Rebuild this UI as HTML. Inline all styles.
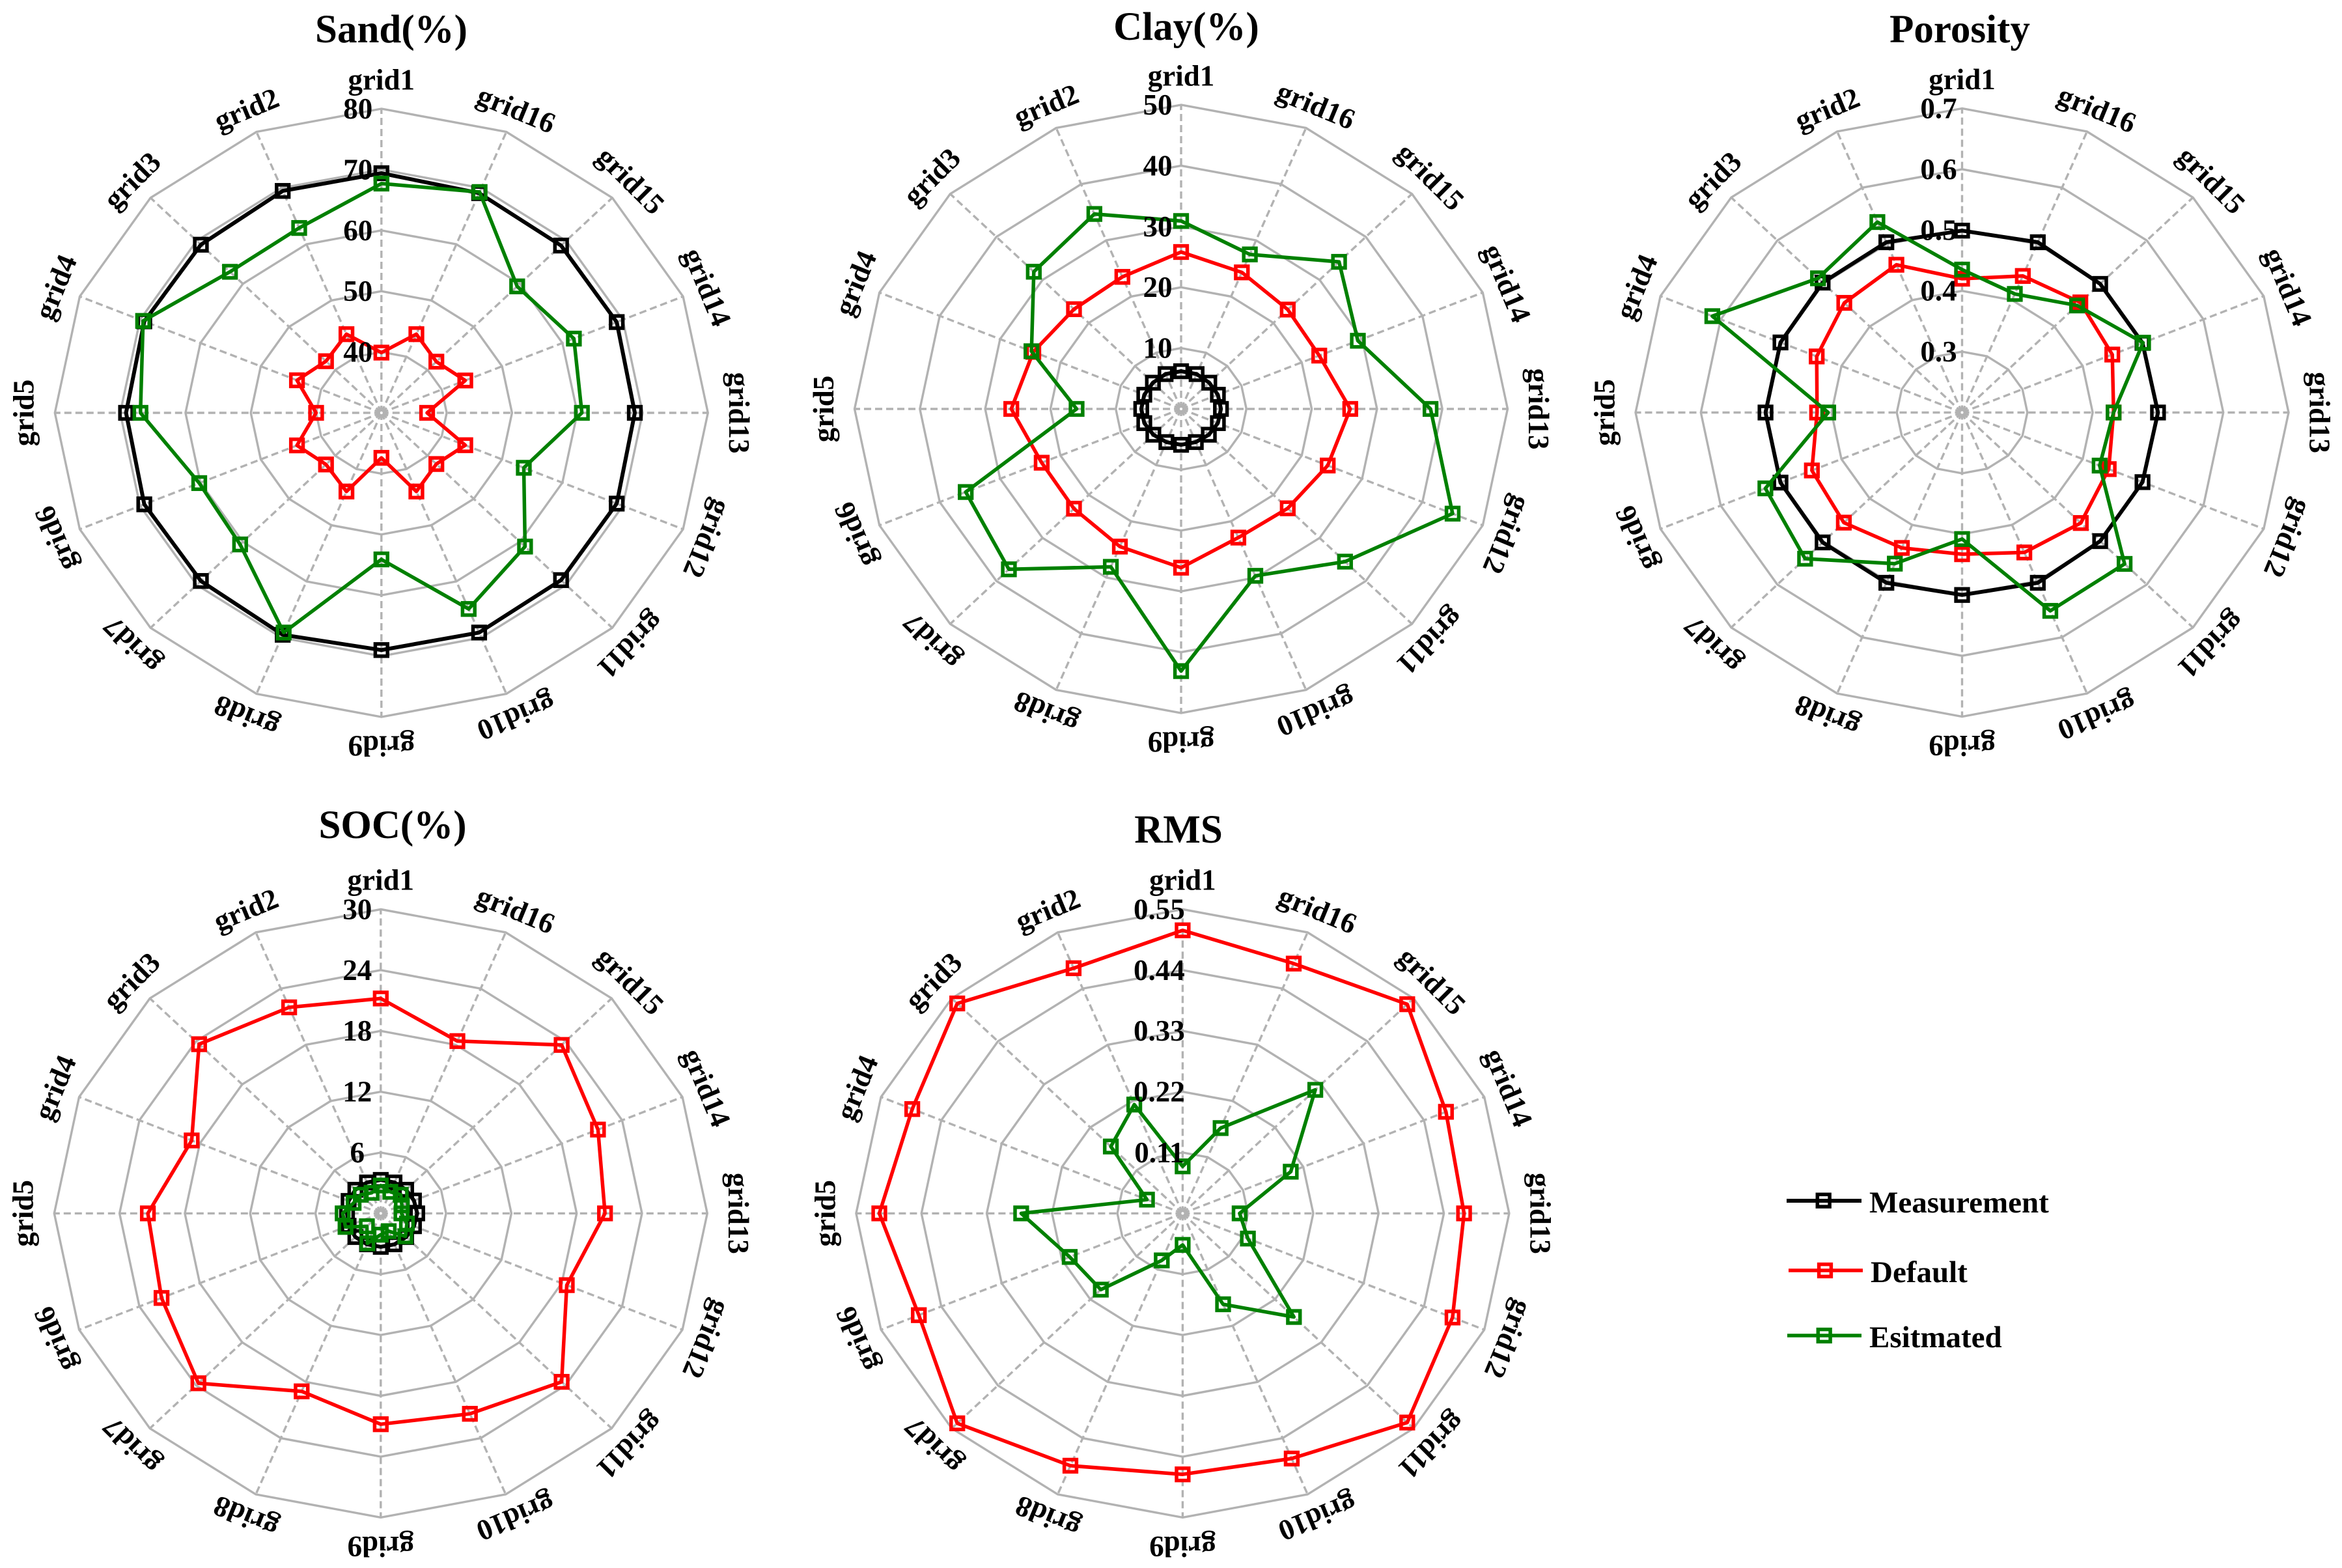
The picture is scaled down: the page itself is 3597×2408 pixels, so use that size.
<!DOCTYPE html>
<html lang="en">
<head>
<meta charset="utf-8">
<title>Radar charts of soil properties</title>
<style>
html,body{margin:0;padding:0;background:#fff;}
svg{display:block;}
text{font-family:"Liberation Serif","DejaVu Serif",serif;font-weight:bold;fill:#000;}
.title{font-size:61px;text-anchor:middle;}
.legend-text{font-size:47px;}
</style>
</head>
<body>
<svg id="figure" xmlns="http://www.w3.org/2000/svg" width="3597" height="2408" viewBox="0 0 3597 2408">
  <rect width="3597" height="2408" fill="#ffffff"/>
  <g id="panel-sand"><text class="title" x="601" y="65">Sand(%)</text></g>
  <g id="panel-clay"><text class="title" x="1822" y="61">Clay(%)</text></g>
  <g id="panel-porosity"><text class="title" x="3010" y="65">Porosity</text></g>
  <g id="panel-soc"><text class="title" x="603" y="1287">SOC(%)</text></g>
  <g id="panel-rms"><text class="title" x="1810" y="1294">RMS</text></g>

  <g>
    <g>
      <line x1="2744" x2="2859" y1="1844" y2="1844" stroke="#000000" stroke-width="6"/>
      <rect x="2791.3" y="1834.3" width="18.8" height="18.8" fill="none" stroke="#000000" stroke-width="5.5"/>
      <text class="legend-text" x="2871" y="1862">Measurement</text>
    </g>
    <g>
      <line x1="2747" x2="2861" y1="1951" y2="1951" stroke="#ff0000" stroke-width="5.5"/>
      <rect x="2793.6" y="1941.6" width="18.8" height="18.8" fill="none" stroke="#ff0000" stroke-width="5.5"/>
      <text class="legend-text" x="2873" y="1969">Default</text>
    </g>
    <g>
      <line x1="2745" x2="2859" y1="2051" y2="2051" stroke="#008000" stroke-width="5.5"/>
      <rect x="2792.3" y="2041.6" width="18.8" height="18.8" fill="none" stroke="#008000" stroke-width="5.5"/>
      <text class="legend-text" x="2871" y="2069">Esitmated</text>
    </g>
  </g>
</svg>
<script>
const categories = ["grid1","grid2","grid3","grid4","grid5","grid6","grid7","grid8","grid9","grid10","grid11","grid12","grid13","grid14","grid15","grid16"];

const sandMeasurement = [69.4,69.5,69.1,69.3,69.1,69.3,69.1,69.5,69.0,69.1,68.9,69.0,68.8,69.0,68.9,69.1];
const sandDefault = [39.9,44.0,42.0,44.0,40.0,44.0,42.0,44.0,37.4,44.0,41.9,43.9,37.0,43.9,41.9,44.0];
const sandEstimated = [67.7,62.9,62.8,69.5,66.9,60.2,60.6,69.1,54.1,64.9,61.1,53.6,60.7,61.9,59.4,69.3];
const sandTicks = ["40","50","60","70","80"];
const sandRange = [30,80];

const clayMeasurement = [6.2,6.2,6.1,6.1,6.1,6.1,6.0,5.9,5.9,5.9,6.0,6.1,6.1,6.1,6.1,6.2];
const clayDefault = [25.8,23.5,23.2,24.5,26.0,23.1,23.2,24.5,26.1,22.9,23.1,24.3,25.9,22.9,23.1,24.3];
const clayEstimated = [30.9,34.7,31.9,24.8,16.0,35.7,37.3,28.1,43.1,29.7,35.5,45.0,38.2,29.3,34.2,27.5];
const clayTicks = ["10","20","30","40","50"];
const clayRange = [0,50];

const porosityMeasurement = [0.499,0.503,0.502,0.501,0.501,0.501,0.502,0.503,0.500,0.503,0.499,0.499,0.500,0.499,0.499,0.503];
const porosityDefault = [0.420,0.463,0.455,0.441,0.422,0.449,0.456,0.441,0.433,0.449,0.457,0.443,0.432,0.449,0.456,0.443];
const porosityEstimated = [0.435,0.539,0.512,0.614,0.405,0.526,0.540,0.469,0.408,0.553,0.552,0.428,0.432,0.500,0.449,0.411];
const porosityTicks = ["0.3","0.4","0.5","0.6","0.7"];
const porosityRange = [0.2,0.7];

const socMeasurement = [3.3,3.3,3.3,3.2,3.1,3.2,3.3,3.3,3.3,3.3,3.3,3.3,3.35,3.3,3.3,3.3];
const socDefault = [21.2,22.0,23.6,18.8,21.4,21.8,23.7,19.0,20.8,21.4,23.5,18.5,20.6,21.6,23.5,18.4];
const socEstimated = [2.75,2.2,2.6,2.7,3.5,3.5,1.8,3.2,2.1,1.9,3.2,2.6,1.9,2.1,2.6,2.3];
const socTicks = ["6","12","18","24","30"];
const socRange = [0,30];

const rmsDefault = [0.512,0.480,0.537,0.493,0.511,0.481,0.537,0.494,0.472,0.480,0.535,0.492,0.474,0.480,0.535,0.489];
const rmsEstimated = [0.085,0.213,0.171,0.065,0.272,0.206,0.195,0.092,0.057,0.178,0.265,0.119,0.096,0.197,0.316,0.167];
const rmsTicks = ["0.11","0.22","0.33","0.44","0.55"];
const rmsRange = [0,0.55];

const SVG_NS = "http://www.w3.org/2000/svg";
const RX = 501.5;
const RY = 467;
const GRAY = "#b2b2b2";

function make(tag, parent) {
  const node = document.createElementNS(SVG_NS, tag);
  parent.appendChild(node);
  return node;
}

function angleOf(index) {
  return index / categories.length * 2 * Math.PI;
}

function radialScale(range) {
  return function (value) {
    return (value - range[0]) / (range[1] - range[0]);
  };
}

function project(cx, cy, index, fraction) {
  const a = angleOf(index);
  return [cx - RX * fraction * Math.sin(a), cy - RY * fraction * Math.cos(a)];
}

function drawPanel(groupId, cx, cy, range, ticks, seriesList) {
  const group = document.getElementById(groupId);
  const scale = radialScale(range);

  ticks.forEach(function (tick) {
    const f = scale(parseFloat(tick));
    const ring = make("polygon", group);
    
    
    ring.setAttribute("points", categories.map(function (c, i) {
      return project(cx, cy, i, f).map(function (v) { return v.toFixed(1); }).join(",");
    }).join(" "));
    ring.setAttribute("fill", "none");
    ring.setAttribute("stroke", GRAY);
    ring.setAttribute("stroke-width", "3.4");
  });

  categories.forEach(function (c, i) {
    const outer = project(cx, cy, i, 1);
    const spoke = make("line", group);
    
    
    spoke.setAttribute("x1", cx);
    spoke.setAttribute("y1", cy);
    spoke.setAttribute("x2", outer[0].toFixed(1));
    spoke.setAttribute("y2", outer[1].toFixed(1));
    spoke.setAttribute("stroke", GRAY);
    spoke.setAttribute("stroke-width", "3.4");
    spoke.setAttribute("stroke-dasharray", "11 6");
  });

  const hub = make("circle", group);
  
  
  hub.setAttribute("cx", cx);
  hub.setAttribute("cy", cy);
  hub.setAttribute("r", "2");
  hub.setAttribute("fill", "#ffffff");

  seriesList.forEach(function (series) {
    const pts = series.values.map(function (v, i) {
      return project(cx, cy, i, scale(v));
    });
    const line = make("polygon", group);
    
    
    line.setAttribute("points", pts.map(function (p) { return p[0].toFixed(1) + "," + p[1].toFixed(1); }).join(" "));
    line.setAttribute("fill", "none");
    line.setAttribute("stroke", series.color);
    line.setAttribute("stroke-width", series.width);
    line.setAttribute("stroke-linejoin", "round");
    pts.forEach(function (p, i) {
      const marker = make("rect", group);
      
      
      marker.setAttribute("x", (p[0] - 9.4).toFixed(1));
      marker.setAttribute("y", (p[1] - 9.4).toFixed(1));
      marker.setAttribute("width", "18.8");
      marker.setAttribute("height", "18.8");
      marker.setAttribute("fill", "none");
      marker.setAttribute("stroke", series.color);
      marker.setAttribute("stroke-width", "5.5");
    });
  });

  ticks.forEach(function (tick) {
    const f = scale(parseFloat(tick));
    const label = make("text", group);
    
    
    label.setAttribute("x", cx - 36);
    label.setAttribute("y", (cy - RY * f + 15).toFixed(1));
    label.setAttribute("text-anchor", "middle");
    label.setAttribute("font-size", "45");
    label.textContent = tick;
  });

  categories.forEach(function (c, i) {
    const a = angleOf(i);
    const reach = i % 4 === 0 ? 1.085 : 1.07;
    const x = cx - RX * reach * Math.sin(a);
    const y = cy - RY * reach * Math.cos(a);
    const label = make("text", group);
    
    
    label.setAttribute("text-anchor", "middle");
    label.setAttribute("font-size", "45");
    label.setAttribute("transform", "translate(" + x.toFixed(1) + " " + y.toFixed(1) + ") rotate(" + (-i * 22.5) + ")");
    label.setAttribute("y", "10");
    label.textContent = c;
  });
}

const BLACK = { color: "#000000", width: 6 };
const RED = { color: "#ff0000", width: 5.5 };
const GREEN = { color: "#008000", width: 5.5 };

drawPanel("panel-sand", 585.8, 634, sandRange, sandTicks, [
  { name: "sand-measurement", values: sandMeasurement, color: BLACK.color, width: BLACK.width },
  { name: "sand-default", values: sandDefault, color: RED.color, width: RED.width },
  { name: "sand-estimated", values: sandEstimated, color: GREEN.color, width: GREEN.width }
]);
drawPanel("panel-clay", 1814, 628, clayRange, clayTicks, [
  { name: "clay-measurement", values: clayMeasurement, color: BLACK.color, width: BLACK.width },
  { name: "clay-default", values: clayDefault, color: RED.color, width: RED.width },
  { name: "clay-estimated", values: clayEstimated, color: GREEN.color, width: GREEN.width }
]);
drawPanel("panel-porosity", 3013.5, 633.5, porosityRange, porosityTicks, [
  { name: "porosity-measurement", values: porosityMeasurement, color: BLACK.color, width: BLACK.width },
  { name: "porosity-default", values: porosityDefault, color: RED.color, width: RED.width },
  { name: "porosity-estimated", values: porosityEstimated, color: GREEN.color, width: GREEN.width }
]);
drawPanel("panel-soc", 584.8, 1863.4, socRange, socTicks, [
  { name: "soc-measurement", values: socMeasurement, color: BLACK.color, width: BLACK.width },
  { name: "soc-default", values: socDefault, color: RED.color, width: RED.width },
  { name: "soc-estimated", values: socEstimated, color: GREEN.color, width: GREEN.width }
]);
drawPanel("panel-rms", 1816.4, 1863.4, rmsRange, rmsTicks, [
  { name: "rms-default", values: rmsDefault, color: RED.color, width: RED.width },
  { name: "rms-estimated", values: rmsEstimated, color: GREEN.color, width: GREEN.width }
]);
</script>
</body>
</html>
